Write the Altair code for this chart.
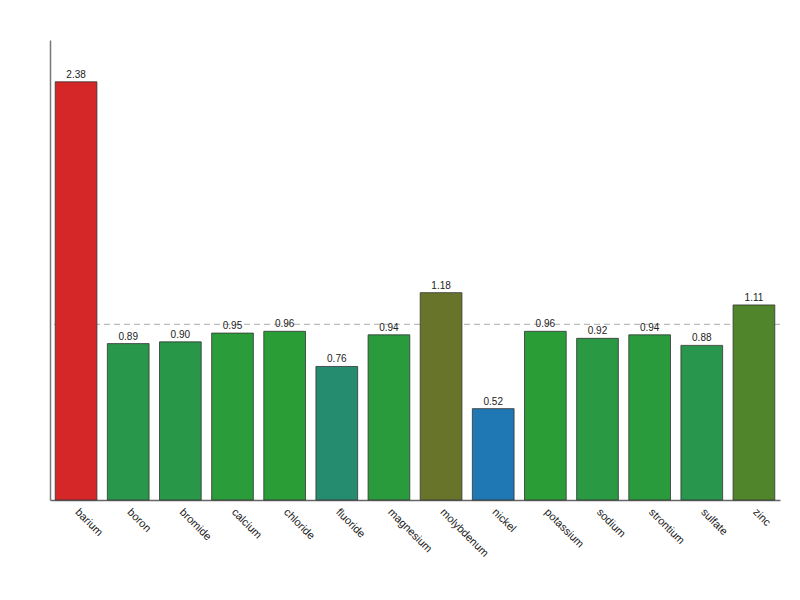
import altair as alt
import pandas as pd

elements = ["barium", "boron", "bromide", "calcium", "chloride", "fluoride", "magnesium",
            "molybdenum", "nickel", "potassium", "sodium", "strontium", "sulfate", "zinc"]
ratios = [2.38, 0.89, 0.90, 0.95, 0.96, 0.76, 0.94, 1.18, 0.52, 0.96, 0.92, 0.94, 0.88, 1.11]
reference_value = [1.0]

df = pd.DataFrame({"element": elements, "ratio": ratios})
df["label"] = [f"{v:.2f}" for v in ratios]
ref = pd.DataFrame({"ref": reference_value})

x_enc = alt.X("element:N", sort=elements, title=None,
              scale=alt.Scale(paddingInner=0.2, paddingOuter=0.1),
              axis=alt.Axis(labelAngle=45, labelAlign="left", labelBaseline="top",
                            ticks=False, labelPadding=6, labelOffset=5, labelFontSize=11,
                            labelColor="#222222", labelFont="Liberation Sans",
                            domainColor="#666666", domainWidth=1.5))
y_scale = alt.Scale(domain=[0, 2.618], nice=False)

rule = alt.Chart(ref).mark_rule(color="#aaaaaa", strokeDash=[6, 4], strokeWidth=1).encode(
    y=alt.Y("ref:Q", scale=y_scale)
)

bars = alt.Chart(df).mark_bar(stroke="#333333", strokeWidth=0.8).encode(
    x=x_enc,
    y=alt.Y("ratio:Q", scale=y_scale, title=None,
            axis=alt.Axis(ticks=False, labels=False, grid=False,
                          domainColor="#777777", domainWidth=1.5)),
    color=alt.Color("ratio:Q", legend=None,
                    scale=alt.Scale(domain=[0.52, 1.0, 1.5],
                                    range=["#1f77b4", "#2ca02c", "#d62728"],
                                    interpolate="rgb", clamp=True)),
)

text = alt.Chart(df).mark_text(dy=-7, fontSize=10, color="#222222", font="Liberation Sans").encode(
    x=alt.X("element:N", sort=elements),
    y=alt.Y("ratio:Q", scale=y_scale),
    text="label:N",
)

chart = alt.layer(rule, bars, text).properties(
    width=730, height=460,
    autosize=alt.AutoSizeParams(type="none"),
    padding={"left": 50, "top": 40, "right": 20, "bottom": 100},
).configure_view(stroke=None).configure_axis(grid=False)

chart.save("out.html", embed_options={"renderer": "svg", "actions": False})
